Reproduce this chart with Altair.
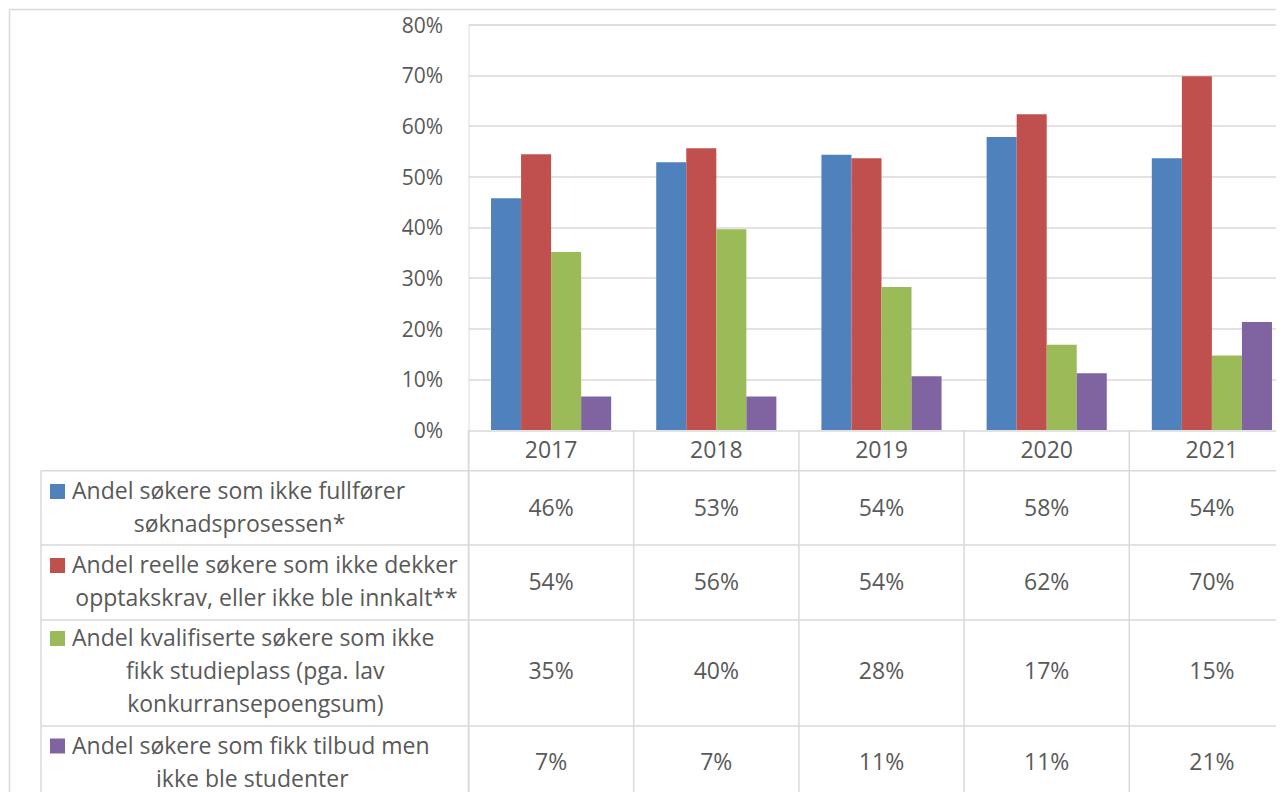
import altair as alt
import pandas as pd

# ---------------- data ----------------
YEARS = ["2017", "2018", "2019", "2020", "2021"]
SERIES = [
    "Andel søkere som ikke fullfører søknadsprosessen*",
    "Andel reelle søkere som ikke dekker opptakskrav, eller ikke ble innkalt**",
    "Andel kvalifiserte søkere som ikke fikk studieplass (pga. lav konkurransepoengsum)",
    "Andel søkere som fikk tilbud men ikke ble studenter",
]
LABEL_LINES = [
    ["Andel søkere som ikke fullfører", "søknadsprosessen*"],
    ["Andel reelle søkere som ikke dekker", "opptakskrav, eller ikke ble innkalt**"],
    ["Andel kvalifiserte søkere som ikke", "fikk studieplass (pga. lav", "konkurransepoengsum)"],
    ["Andel søkere som fikk tilbud men", "ikke ble studenter"],
]
IKKE_FULLFORT = [0.457, 0.528, 0.543, 0.578, 0.536]
IKKE_KRAV = [0.544, 0.556, 0.536, 0.623, 0.698]
IKKE_PLASS = [0.351, 0.396, 0.282, 0.168, 0.147]
IKKE_STUDENT = [0.066, 0.066, 0.106, 0.112, 0.213]
VALUES = [IKKE_FULLFORT, IKKE_KRAV, IKKE_PLASS, IKKE_STUDENT]
TITLE = "Figur 3: Prosentvis frafall gjennom opptaksprosessen siste 5 år"

# ---------------- style / layout ----------------
COLORS = ["#4F81BD", "#C0504D", "#9BBB59", "#8064A2"]
TXT = "#595959"
GRID = "#D9D9D9"
FONT = "Open Sans"
PAD_LEFT, PAD_TOP = 460.5, 16.5
VIEW_W, VIEW_H = 807.5, 768
PLOT_H = 405.5
LINE_STEP = 33
TEXT_DY = 0.5
HEADER_Y = 425.5
ROW_CENTER_Y = [483.5, 557.5, 647, 738]
FIRST_LINE_X = -396.5
MARKER_X = -411
CONT_CENTER_X = [-229, -202, -213.2, -216.2]
HLINES = [446.2, 520.5, 595.5, 701.5, 775.5]
TABLE_LEFT = -427.5
FRAME = -459
FRAME_TOP = -15

bars_df = pd.DataFrame(
    [{"year": y, "series": s, "value": VALUES[i][j]}
     for i, s in enumerate(SERIES) for j, y in enumerate(YEARS)]
)
bars_df["py"] = bars_df["series"].map(dict(zip(SERIES, ROW_CENTER_Y)))

years_df = pd.DataFrame({"year": YEARS})

line_rows = []
for i, lines in enumerate(LABEL_LINES):
    n = len(lines)
    for k, t in enumerate(lines):
        line_rows.append({
            "series": SERIES[i],
            "text": t,
            "k": k,
            "py": ROW_CENTER_Y[i] + (k - (n - 1) / 2) * LINE_STEP,
            "px": FIRST_LINE_X if k == 0 else CONT_CENTER_X[i],
        })
lines_df = pd.DataFrame(line_rows)
first_df = lines_df[lines_df.k == 0]
rest_df = lines_df[lines_df.k > 0]

x_scale = alt.Scale(domain=YEARS, range=[0, 826], paddingInner=0, paddingOuter=0)
color_scale = alt.Scale(domain=SERIES, range=COLORS)

bars = alt.Chart(bars_df).mark_bar().encode(
    x=alt.X("year:N", scale=x_scale, axis=None),
    xOffset=alt.XOffset("series:N", scale=alt.Scale(domain=SERIES, paddingOuter=0.75, paddingInner=0)),
    y=alt.Y("value:Q",
            scale=alt.Scale(domain=[0, 0.8], range=[PLOT_H, 0], nice=False, zero=True),
            axis=alt.Axis(values=[i / 10 for i in range(9)], format=".0%", grid=True,
                          gridColor=GRID, gridWidth=1.5, domain=False, ticks=False,
                          tickSize=0, labelPadding=26, labelOffset=1.5, labelFont=FONT,
                          labelFontSize=21, labelColor=TXT, title=None)),
    color=alt.Color("series:N", scale=color_scale, legend=None),
)

# table grid decoration
rule_rows = [{"x": TABLE_LEFT, "x2": 900, "y": h, "y2": h} for h in HLINES]
rule_rows.append({"x": TABLE_LEFT, "x2": TABLE_LEFT, "y": HLINES[0], "y2": 800})
rule_rows.append({"x": FRAME, "x2": FRAME, "y": FRAME_TOP, "y2": 800})
rule_rows.append({"x": FRAME, "x2": 900, "y": FRAME_TOP, "y2": FRAME_TOP})
rules_df = pd.DataFrame(rule_rows)
grid_rules = alt.Chart(rules_df).mark_rule(color=GRID, strokeWidth=1.5).encode(
    x=alt.X("x:Q", scale=None), x2="x2:Q",
    y=alt.Y("y:Q", scale=None), y2="y2:Q",
)
band_rules = alt.Chart(years_df).mark_rule(color=GRID, strokeWidth=1.5).encode(
    x=alt.X("year:N", scale=x_scale, bandPosition=0, axis=None),
    y=alt.value(PLOT_H), y2=alt.value(800),
)

text_style = dict(font=FONT, fontSize=23, color=TXT, baseline="middle", dy=TEXT_DY)

headers = alt.Chart(years_df).mark_text(align="center", **text_style).encode(
    x=alt.X("year:N", scale=x_scale, axis=None),
    y=alt.value(HEADER_Y),
    text="year:N",
)

values = alt.Chart(bars_df).mark_text(align="center", **text_style).encode(
    x=alt.X("year:N", scale=x_scale, axis=None),
    y=alt.Y("py:Q", scale=None),
    text=alt.Text("value:Q", format=".0%"),
)

first_lines = alt.Chart(first_df).mark_text(align="left", **text_style).encode(
    x=alt.X("px:Q", scale=None), y=alt.Y("py:Q", scale=None), text="text:N",
)
rest_lines = alt.Chart(rest_df).mark_text(align="center", **text_style).encode(
    x=alt.X("px:Q", scale=None), y=alt.Y("py:Q", scale=None), text="text:N",
)
markers = alt.Chart(first_df).mark_square(size=225, opacity=1).encode(
    x=alt.value(MARKER_X), y=alt.Y("py:Q", scale=None),
    color=alt.Color("series:N", scale=color_scale, legend=None),
)

title = alt.Chart(pd.DataFrame({"t": [TITLE]})).mark_text(
    font="DejaVu Sans", fontStyle="italic", fontSize=22, color="#000000",
    align="left", baseline="alphabetic"
).encode(x=alt.value(-468.5), y=alt.value(-22.5), text="t:N")

chart = alt.layer(
    grid_rules, band_rules, bars, headers, values, first_lines, rest_lines, markers, title
).resolve_scale(
    x="independent", y="independent"
).properties(
    width=VIEW_W, height=VIEW_H,
    padding={"left": PAD_LEFT, "top": PAD_TOP, "right": 0, "bottom": 0},
    autosize=alt.AutoSizeParams(type="none"),
).configure_view(stroke=None).configure(background="white")

chart.save("out.html", embed_options={"renderer": "svg", "actions": False})
